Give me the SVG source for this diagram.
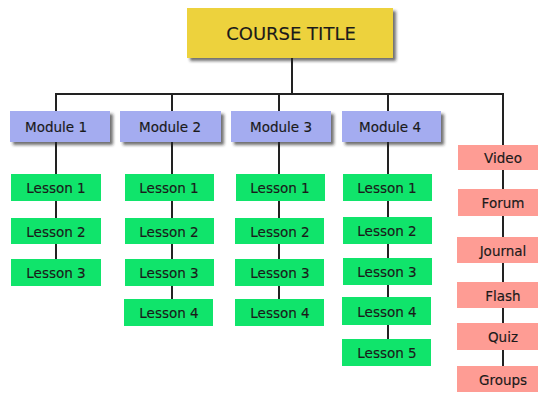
<svg xmlns="http://www.w3.org/2000/svg" width="538" height="393" viewBox="0 0 538 393">
<defs>
<filter id="sh" x="-10%" y="-20%" width="130%" height="150%">
<feDropShadow dx="3" dy="3" stdDeviation="1.5" flood-color="#222" flood-opacity="0.65"/>
</filter>
</defs>
<style>
text{font-family:"DejaVu Sans","Liberation Sans",sans-serif;fill:#1a1a1a;text-anchor:middle;font-size:13.5px;stroke:#1a1a1a;stroke-width:0.15px}
.title rect{fill:#EDD23E}
.title text{font-size:18px}
.mod rect{fill:#A4ACF0}
.les rect{fill:#10E46B}
.act rect{fill:#FE9C94}
.conn line{stroke:#222;stroke-width:2;fill:none}
</style>
<rect width="538" height="393" fill="#fff"/>
<g class="conn" id="connectors">
<line x1="292" y1="58" x2="292" y2="94"/>
<line x1="55" y1="94" x2="504" y2="94"/>
<line x1="56" y1="93" x2="56" y2="260"/>
<line x1="172" y1="93" x2="172" y2="300"/>
<line x1="279" y1="93" x2="279" y2="300"/>
<line x1="388" y1="93" x2="388" y2="340"/>
<line x1="503" y1="93" x2="503" y2="367"/>
</g>
<g id="title" class="title"><rect x="187" y="8" width="206" height="50" filter="url(#sh)"/><text x="291" y="39.5">COURSE TITLE</text></g>
<g id="module1" class="mod"><rect x="10" y="111" width="100" height="31" filter="url(#sh)"/><text x="56" y="132">Module 1</text></g>
<g id="module2" class="mod"><rect x="120" y="111" width="101" height="31" filter="url(#sh)"/><text x="170" y="132">Module 2</text></g>
<g id="module3" class="mod"><rect x="231" y="111" width="100" height="31" filter="url(#sh)"/><text x="281" y="132">Module 3</text></g>
<g id="module4" class="mod"><rect x="342" y="111" width="99" height="31" filter="url(#sh)"/><text x="390" y="132">Module 4</text></g>
<g id="m1l1" class="les"><rect x="11" y="174" width="90" height="27"/><text x="56" y="193">Lesson 1</text></g>
<g id="m1l2" class="les"><rect x="11" y="218" width="90" height="26"/><text x="56" y="236.5">Lesson 2</text></g>
<g id="m1l3" class="les"><rect x="11" y="259" width="90" height="27"/><text x="56" y="278">Lesson 3</text></g>
<g id="m2l1" class="les"><rect x="125" y="174" width="89" height="27"/><text x="169" y="193">Lesson 1</text></g>
<g id="m2l2" class="les"><rect x="125" y="218" width="89" height="26"/><text x="169" y="236.5">Lesson 2</text></g>
<g id="m2l3" class="les"><rect x="125" y="259" width="89" height="27"/><text x="169" y="278">Lesson 3</text></g>
<g id="m2l4" class="les"><rect x="124" y="299" width="89" height="27"/><text x="169" y="318">Lesson 4</text></g>
<g id="m3l1" class="les"><rect x="236" y="174" width="89" height="27"/><text x="280" y="193">Lesson 1</text></g>
<g id="m3l2" class="les"><rect x="235" y="218" width="89" height="26"/><text x="280" y="236.5">Lesson 2</text></g>
<g id="m3l3" class="les"><rect x="235" y="259" width="89" height="27"/><text x="280" y="278">Lesson 3</text></g>
<g id="m3l4" class="les"><rect x="235" y="299" width="89" height="27"/><text x="280" y="318">Lesson 4</text></g>
<g id="m4l1" class="les"><rect x="343" y="174" width="89" height="27"/><text x="387" y="193">Lesson 1</text></g>
<g id="m4l2" class="les"><rect x="343" y="217" width="89" height="27"/><text x="387" y="236">Lesson 2</text></g>
<g id="m4l3" class="les"><rect x="343" y="258" width="89" height="27"/><text x="387" y="277">Lesson 3</text></g>
<g id="m4l4" class="les"><rect x="342" y="297" width="89" height="28"/><text x="387" y="316.5">Lesson 4</text></g>
<g id="m4l5" class="les"><rect x="342" y="339" width="89" height="27"/><text x="387" y="358">Lesson 5</text></g>
<g id="video" class="act"><rect x="458" y="145" width="90" height="25"/><text x="503" y="163">Video</text></g>
<g id="forum" class="act"><rect x="458" y="189" width="90" height="27"/><text x="503" y="208">Forum</text></g>
<g id="journal" class="act"><rect x="457" y="237" width="91" height="26"/><text x="503" y="255.5">Journal</text></g>
<g id="flash" class="act"><rect x="457" y="282" width="91" height="26"/><text x="503" y="300.5">Flash</text></g>
<g id="quiz" class="act"><rect x="457" y="323" width="91" height="27"/><text x="503" y="342">Quiz</text></g>
<g id="groups" class="act"><rect x="457" y="366" width="91" height="26"/><text x="503" y="384.5">Groups</text></g>
</svg>
